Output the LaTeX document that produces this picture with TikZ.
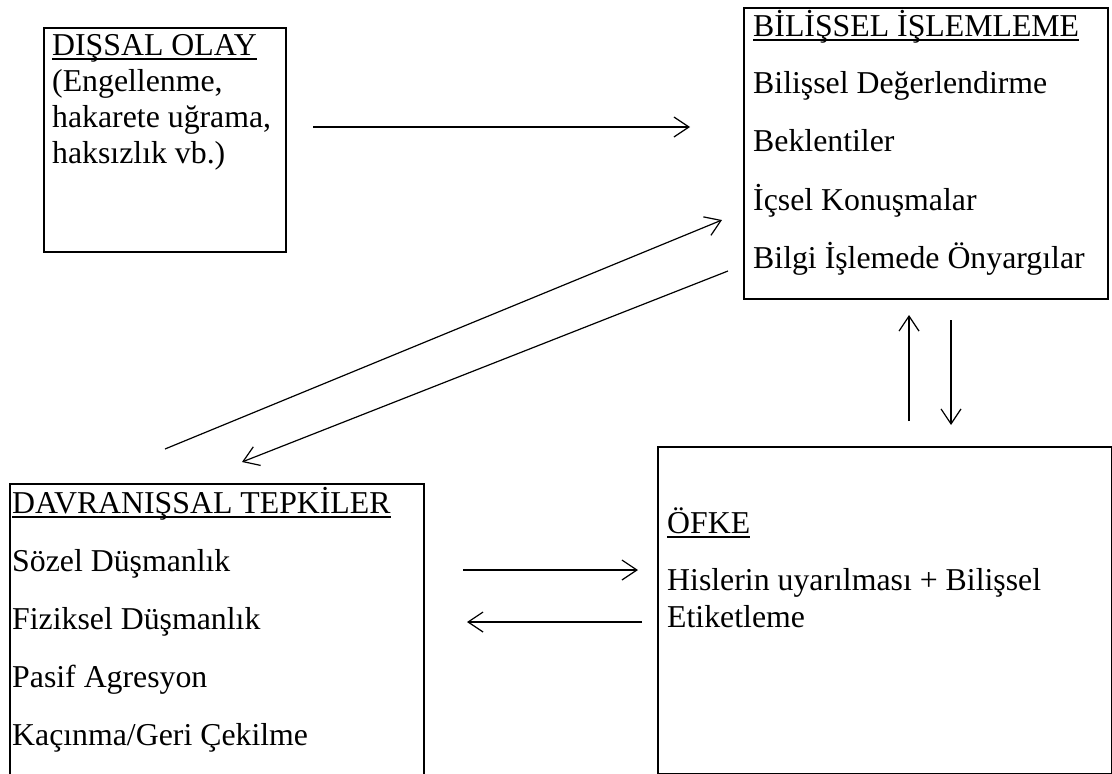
\documentclass[tikz,border=0pt]{standalone}
\usepackage{fontspec}
\setmainfont{Liberation Serif}
\usetikzlibrary{arrows.meta}
\begin{document}
\begin{tikzpicture}[x=1pt,y=-1pt,
  box/.style={draw, line width=2.2pt, inner sep=0pt, anchor=north west},
  txt/.style={inner sep=0pt, anchor=base west, font=\fontsize{31.8}{36}\selectfont},
  arr/.style={line width=1.2pt, -{Straight Barb[length=15pt,width=20pt,line width=1.2pt]}},
  ul/.style={line width=1.5pt}]
\useasboundingbox (0,0) rectangle (1112,774);
% boxes
\node[box, minimum width=242pt, minimum height=224pt] (dis) at (43,27) {};
\node[box, minimum width=364pt, minimum height=291pt] (bil) at (743,7) {};
\node[box, minimum width=454pt, minimum height=327pt] (ofk) at (657,446) {};
\coordinate (dvA) at (10,800);
\coordinate (dvB) at (10,484);
\coordinate (dvC) at (424,484);
\coordinate (dvD) at (424,800);
\draw[line width=2.2pt] (dvA) -- (dvB) -- (dvC) -- (dvD);
% texts
\node[txt] (t1) at (52,55) {DIŞSAL OLAY};
\node[txt] (t2) at (52,91) {(Engellenme,};
\node[txt] (t3) at (52,127) {hakarete uğrama,};
\node[txt] (t4) at (52,163) {haksızlık vb.)};
\node[txt] (b1) at (753,36) {BİLİŞSEL İŞLEMLEME};
\node[txt] (b2) at (753,93) {Bilişsel Değerlendirme};
\node[txt] (b3) at (753,151) {Beklentiler};
\node[txt] (b4) at (753,210) {İçsel Konuşmalar};
\node[txt] (b5) at (753,268) {Bilgi İşlemede Önyargılar};
\node[txt] (d1) at (12,513) {DAVRANIŞSAL TEPKİLER};
\node[txt] (d2) at (12,571) {Sözel Düşmanlık};
\node[txt] (d3) at (12,629) {Fiziksel Düşmanlık};
\node[txt] (d4) at (12,687) {Pasif Agresyon};
\node[txt] (d5) at (12,745) {Kaçınma/Geri Çekilme};
\node[txt] (o1) at (667,533) {ÖFKE};
\node[txt] (o2) at (667,590) {Hislerin uyarılması + Bilişsel};
\node[txt] (o3) at (667,627) {Etiketleme};
% underlines
\foreach \n in {t1,b1,d1,o1}{
  \draw[ul] ([yshift=-4pt]\n.base west) -- ([yshift=-4pt]\n.base east);
}
% arrows
\coordinate (a1s) at (313,127); \coordinate (a1e) at (690,127);
\coordinate (a2s) at (165,449); \coordinate (a2e) at (722,220);
\coordinate (a3s) at (728,271); \coordinate (a3e) at (242,462);
\coordinate (a4s) at (909,421); \coordinate (a4e) at (909,315);
\coordinate (a5s) at (951,320); \coordinate (a5e) at (951,425);
\coordinate (a6s) at (463,570); \coordinate (a6e) at (638,570);
\coordinate (a7s) at (642,622); \coordinate (a7e) at (467,622);
\draw[arr] (a1s) -- (a1e);
\draw[arr] (a2s) -- (a2e);
\draw[arr] (a3s) -- (a3e);
\draw[arr] (a4s) -- (a4e);
\draw[arr] (a5s) -- (a5e);
\draw[arr] (a6s) -- (a6e);
\draw[arr] (a7s) -- (a7e);
\end{tikzpicture}
\end{document}
